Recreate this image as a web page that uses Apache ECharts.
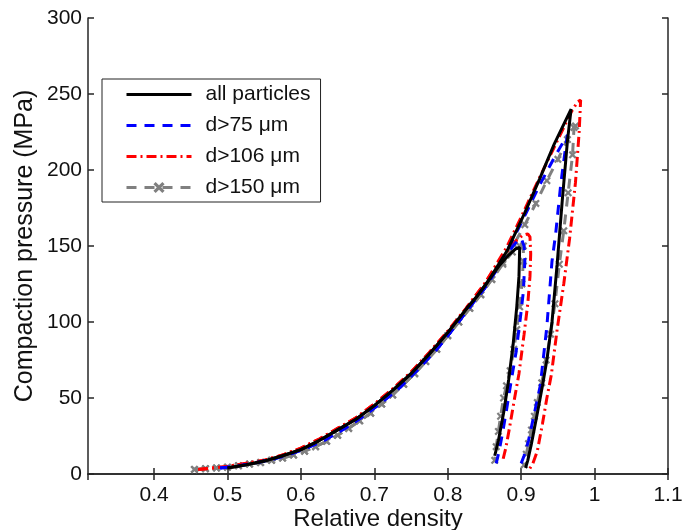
<!DOCTYPE html>
<html>
<head>
<meta charset="utf-8">
<script src="https://cdn.jsdelivr.net/npm/echarts@6/dist/echarts.min.js"></script>
<style>
	html, body { margin: 0; padding: 0; background: #fff; }
	#chartContent { width: 692px; height: 530px; }
</style>
</head>
<body>
<div id="chartContent"></div>
<script>
var legendData = ['all particles', 'd>75 \u03bcm', 'd>106 \u03bcm', 'd>150 \u03bcm'];
var xTicks = [0.4, 0.5, 0.6, 0.7, 0.8, 0.9, 1, 1.1];

// [relative density, pressure MPa]
// all particles
var blackBase = [[0.50, 4], [0.525, 6], [0.55, 8.5], [0.575, 12], [0.60, 16], [0.625, 22], [0.65, 29], [0.675, 36], [0.70, 45], [0.725, 55], [0.75, 66], [0.775, 79], [0.80, 93], [0.826, 109], [0.84, 117]];
var blackCycle1 = [[0.855, 127], [0.87, 137], [0.883, 144], [0.892, 148], [0.898, 149], [0.897, 130], [0.894, 110], [0.889, 85], [0.883, 62], [0.876, 40], [0.869, 22], [0.864, 12]];
var blackCycle2 = [[0.854, 126], [0.868, 137], [0.881, 147], [0.905, 172], [0.925, 194], [0.945, 217], [0.968, 240], [0.963, 219], [0.956, 180], [0.949, 138], [0.942, 100], [0.935, 75], [0.929, 58], [0.922, 40], [0.914, 20], [0.909, 9], [0.906, 4]];
// d>75 um
var blueBase = [[0.49, 4], [0.51, 5], [0.535, 7], [0.56, 9.5], [0.585, 13], [0.61, 17.5], [0.635, 23], [0.66, 30], [0.685, 38], [0.71, 47], [0.735, 57], [0.76, 69], [0.785, 82], [0.81, 97], [0.835, 113], [0.85, 122]];
var blueCycle1 = [[0.865, 133], [0.878, 143], [0.889, 150], [0.896, 154], [0.900, 155], [0.904, 150], [0.905, 140], [0.903, 120], [0.899, 103], [0.893, 80], [0.886, 60], [0.880, 42], [0.875, 28], [0.870, 15], [0.866, 7]];
var blueCycle2 = [[0.865, 134], [0.88, 146], [0.90, 165], [0.925, 190], [0.945, 208], [0.958, 219], [0.963, 223], [0.9605, 215], [0.954, 191], [0.947, 158], [0.942, 140], [0.935, 97], [0.926, 58], [0.918, 40], [0.910, 22], [0.904, 12], [0.900, 7]];
// d>106 um
var redBase = [[0.46, 3], [0.48, 4], [0.50, 5], [0.525, 7], [0.55, 9], [0.575, 12.5], [0.60, 17], [0.625, 23], [0.65, 30], [0.675, 37], [0.70, 46], [0.725, 56], [0.75, 67], [0.775, 80], [0.80, 94], [0.825, 109], [0.85, 125]];
var redCycle1 = [[0.865, 136], [0.88, 146], [0.892, 153], [0.902, 157], [0.909, 158], [0.912, 156], [0.913, 145], [0.912, 130], [0.909, 112], [0.904, 92], [0.897, 66], [0.890, 47], [0.884, 30], [0.879, 17], [0.875, 9]];
var redCycle2 = [[0.865, 137], [0.88, 149], [0.90, 169], [0.925, 195], [0.95, 220], [0.968, 238], [0.977, 245], [0.981, 246], [0.979, 225], [0.974, 192], [0.966, 155], [0.958, 125], [0.949, 95], [0.941, 65], [0.935, 50], [0.929, 33], [0.922, 15], [0.916, 7], [0.911, 3]];
// d>150 um
var grayBase = [[0.455, 3], [0.47, 3.5], [0.485, 4], [0.50, 4.5], [0.515, 5.5], [0.53, 6.5], [0.545, 7.5], [0.56, 9], [0.575, 10.5], [0.59, 12.5], [0.605, 15], [0.62, 18], [0.635, 21.5], [0.65, 25.5], [0.665, 30], [0.68, 35], [0.695, 40], [0.71, 46], [0.725, 52], [0.74, 59], [0.755, 66], [0.77, 74], [0.785, 82], [0.80, 91], [0.815, 100], [0.83, 109], [0.845, 118], [0.86, 128]];
var grayCycle1 = [[0.875, 138], [0.888, 146], [0.898, 150], [0.903, 150], [0.903, 140], [0.901, 125], [0.898, 110], [0.894, 95], [0.890, 82], [0.885, 68], [0.880, 58], [0.876, 50], [0.872, 38], [0.869, 28], [0.866, 18], [0.864, 9]];
var grayCycle2 = [[0.875, 139], [0.89, 151], [0.905, 164], [0.92, 178], [0.935, 193], [0.95, 207], [0.963, 220], [0.972, 228], [0.974, 229], [0.970, 210], [0.964, 185], [0.958, 160], [0.952, 138], [0.946, 112], [0.940, 92], [0.934, 75], [0.928, 60], [0.922, 47], [0.918, 38], [0.914, 29], [0.910, 20], [0.907, 13], [0.904, 6]];

var fontName = 'Liberation Sans';
var crossPath = 'path://M2,0L5,3L8,0L10,2L7,5L10,8L8,10L5,7L2,10L0,8L3,5L0,2Z';

function makeSeries(name, data, color, type, z, withMarks) {
	return {
		name: name,
		type: 'line',
		data: data,
		z: z,
		animation: false,
		silent: true,
		symbol: withMarks ? crossPath : 'none',
		symbolSize: 8,
		showSymbol: !!withMarks,
		itemStyle: {
			color: color
		},
		lineStyle: {
			color: color,
			width: 3,
			type: type
		}
	};
}

lineChart();

function lineChart() {
	var myChart = echarts.init(document.getElementById('chartContent'));
	var axisLine = {
		show: true,
		lineStyle: {
			color: '#262626',
			width: 1.5
		}
	};
	var tick = {
		show: true,
		inside: true,
		length: 6,
		lineStyle: {
			color: '#262626',
			width: 1.5
		}
	};
	var dashed = [10, 8];
	var dashDot = [10, 4, 2, 4];
	// legend: only the gray entry keeps its marker
	var legendItems = [];
	for (var i = 0; i < legendData.length; i++) {
		legendItems.push({
			name: legendData[i],
			itemStyle: { opacity: i == 3 ? 1 : 0 }
		});
	}
	var option = {
		backgroundColor: '#fff',
		animation: false,
		grid: {
			left: 88,
			right: 24,
			top: 18,
			bottom: 56,
			containLabel: false,
			outerBoundsMode: 'none'
		},
		legend: {
			data: legendItems,
			orient: 'vertical',
			left: 102,
			top: 79,
			backgroundColor: '#fff',
			borderColor: '#222',
			borderWidth: 1,
			padding: [5, 10, 4, 23],
			itemWidth: 65,
			itemHeight: 14,
			itemGap: 10,
			lineStyle: {
				width: 3
			},
			textStyle: {
				fontFamily: fontName,
				fontSize: 21,
				lineHeight: 21,
				color: '#111',
				padding: [0, 0, 0, 9]
			}
		},
		xAxis: [{
			type: 'value',
			min: 0.31,
			max: 1.1,
			splitNumber: 8,
			name: 'Relative density',
			nameLocation: 'middle',
			nameGap: 33,
			nameMoveOverlap: false,
			nameTextStyle: {
				fontFamily: fontName,
				fontSize: 24,
				color: '#111'
			},
			axisLine: axisLine,
			axisTick: tick,
			splitLine: { show: false },
			axisLabel: {
				showMinLabel: false,
				fontFamily: fontName,
				fontSize: 21,
				color: '#111',
				margin: 11,
				formatter: function(v) {
					for (var i = 0; i < xTicks.length; i++) {
						if (Math.abs(v - xTicks[i]) < 1e-6) return String(xTicks[i]);
					}
					return '';
				}
			}
		}, {
			type: 'value',
			position: 'top',
			min: 0.31,
			max: 1.1,
			splitNumber: 8,
			axisLine: axisLine,
			axisTick: tick,
			splitLine: { show: false },
			axisLabel: { show: false }
		}],
		yAxis: [{
			type: 'value',
			min: 0,
			max: 300,
			interval: 50,
			name: 'Compaction pressure (MPa)',
			nameLocation: 'middle',
			nameGap: 50,
			nameMoveOverlap: false,
			nameTextStyle: {
				fontFamily: fontName,
				fontSize: 25,
				color: '#111'
			},
			axisLine: axisLine,
			axisTick: tick,
			splitLine: { show: false },
			axisLabel: {
				fontFamily: fontName,
				fontSize: 21,
				color: '#111',
				margin: 6
			}
		}, {
			type: 'value',
			position: 'right',
			min: 0,
			max: 300,
			interval: 50,
			axisLine: axisLine,
			axisTick: tick,
			splitLine: { show: false },
			axisLabel: { show: false }
		}],
		series: [
			makeSeries(legendData[3], grayBase.concat(grayCycle1), '#808080', dashed, 1, true),
			makeSeries(legendData[3], grayBase.concat(grayCycle2), '#808080', dashed, 1, true),
			makeSeries(legendData[2], redBase.concat(redCycle1), '#ff0000', dashDot, 2, false),
			makeSeries(legendData[2], redBase.concat(redCycle2), '#ff0000', dashDot, 2, false),
			makeSeries(legendData[1], blueBase.concat(blueCycle1), '#0000ff', dashed, 3, false),
			makeSeries(legendData[1], blueBase.concat(blueCycle2), '#0000ff', dashed, 3, false),
			makeSeries(legendData[0], blackBase.concat(blackCycle1), '#000000', 'solid', 4, false),
			makeSeries(legendData[0], blackBase.concat(blackCycle2), '#000000', 'solid', 4, false)
		]
	};
	myChart.setOption(option);
}
</script>
</body>
</html>
